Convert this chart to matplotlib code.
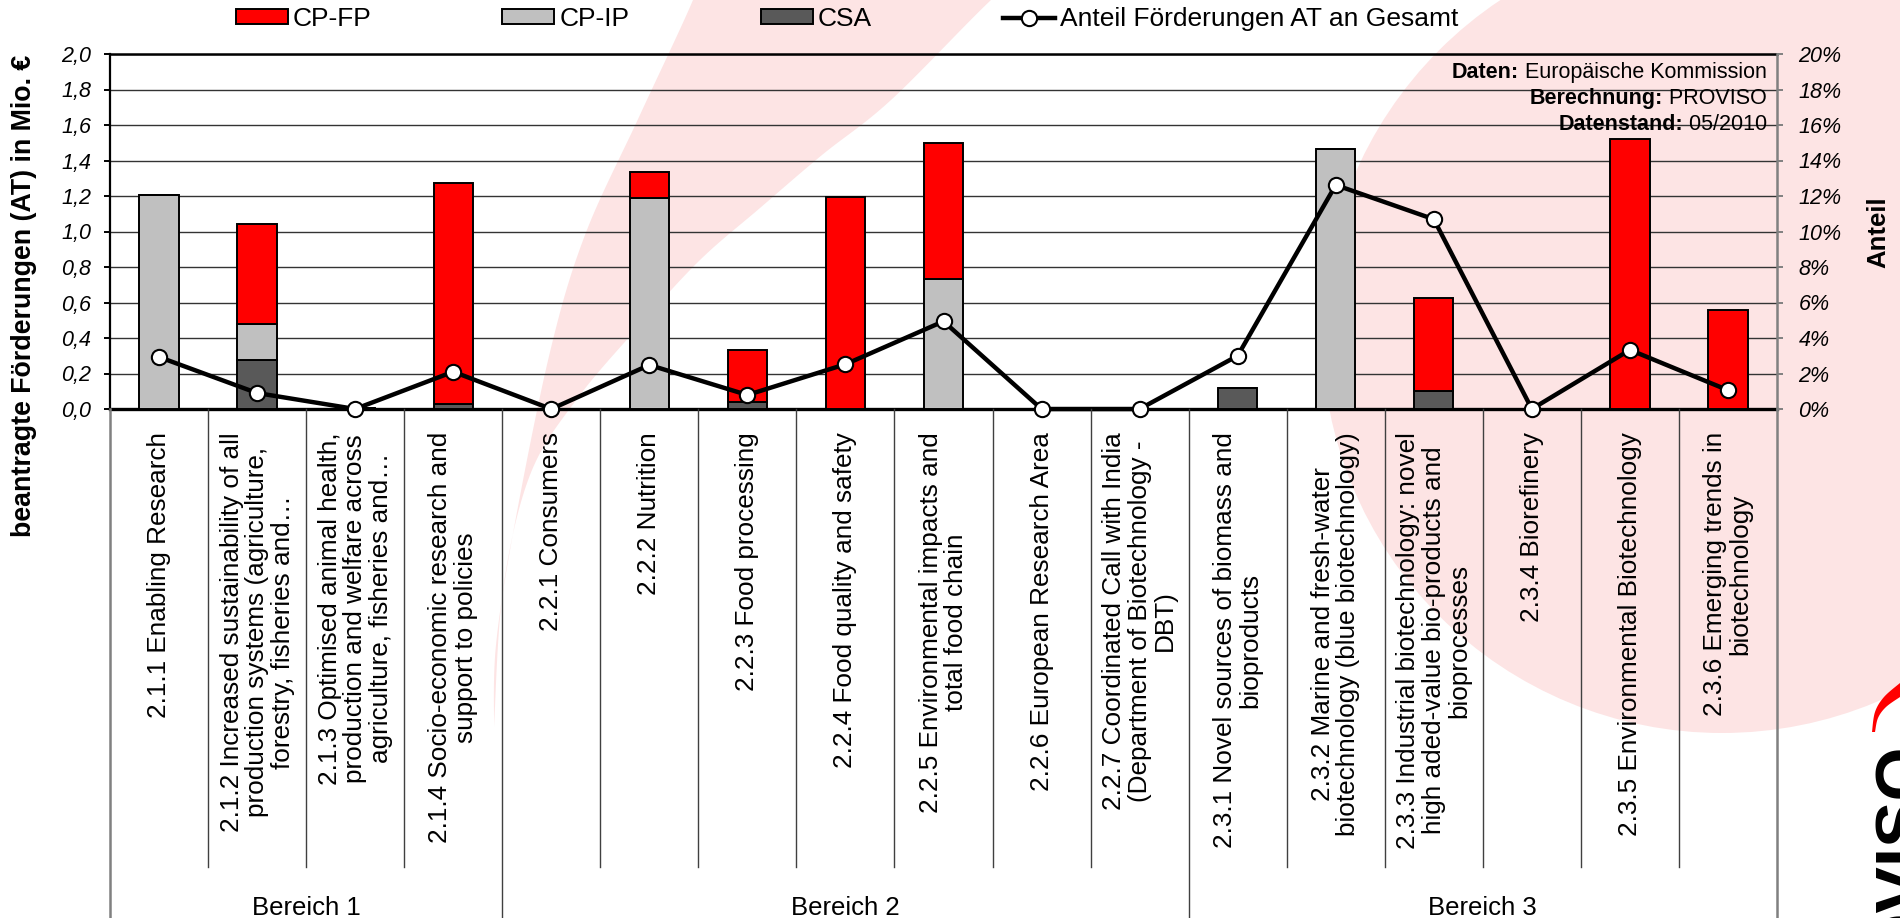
import numpy as np
import matplotlib
matplotlib.use('Agg')
import matplotlib.pyplot as plt
import matplotlib.transforms as mtransforms
from matplotlib.patches import Ellipse, Polygon, Rectangle
from matplotlib.lines import Line2D

plt.rcParams['font.family'] = ['Liberation Sans', 'DejaVu Sans']

# ---------------- data ----------------
categories = [
    "2.1.1 Enabling Research",
    "2.1.2 Increased sustainability of all\nproduction systems (agriculture,\nforestry, fisheries and…",
    "2.1.3 Optimised animal health,\nproduction and welfare across\nagriculture, fisheries and…",
    "2.1.4 Socio-economic research and\nsupport to policies",
    "2.2.1 Consumers",
    "2.2.2 Nutrition",
    "2.2.3 Food processing",
    "2.2.4 Food quality and safety",
    "2.2.5 Environmental impacts and\ntotal food chain",
    "2.2.6 European Research Area",
    "2.2.7 Coordinated Call with India\n(Department of Biotechnology -\nDBT)",
    "2.3.1 Novel sources of biomass and\nbioproducts",
    "2.3.2 Marine and fresh-water\nbiotechnology (blue biotechnology)",
    "2.3.3 Industrial biotechnology: novel\nhigh aded-value bio-products and\nbioprocesses",
    "2.3.4 Biorefinery",
    "2.3.5 Environmental Biotechnology",
    "2.3.6 Emerging trends in\nbiotechnology",
]
groups = ["Bereich 1", "Bereich 2", "Bereich 3"]
group_sizes = [4, 7, 6]

csa   = [0.0, 0.278, 0.006, 0.028, 0.0, 0.0, 0.038, 0.0, 0.0, 0.0, 0.0, 0.120, 0.0, 0.101, 0.0, 0.0, 0.0]
cp_ip = [1.205, 0.203, 0.0, 0.0, 0.0, 1.190, 0.0, 0.0, 0.732, 0.0, 0.0, 0.0, 1.463, 0.0, 0.0, 0.0, 0.0]
cp_fp = [0.0, 0.564, 0.0, 1.247, 0.0, 0.147, 0.296, 1.192, 0.768, 0.0, 0.0, 0.0, 0.0, 0.526, 0.0, 1.521, 0.555]
anteil = [2.93, 0.90, 0.0, 2.10, 0.0, 2.48, 0.79, 2.52, 4.94, 0.0, 0.0, 3.00, 12.62, 10.69, 0.0, 3.33, 1.06]

left_ticks = [0.0, 0.2, 0.4, 0.6, 0.8, 1.0, 1.2, 1.4, 1.6, 1.8, 2.0]
right_ticks = [0, 2, 4, 6, 8, 10, 12, 14, 16, 18, 20]

legend_labels = ["CP-FP", "CP-IP", "CSA", "Anteil Förderungen AT an Gesamt"]
source_rows = [("Daten:", " Europäische Kommission"),
               ("Berechnung:", " PROVISO"),
               ("Datenstand:", " 05/2010")]

# ---------------- figure ----------------
W, H = 1900, 918
fig = plt.figure(figsize=(W / 100, H / 100), dpi=100)
fig.patch.set_facecolor('white')


def fx(px):
    return px / W


def fy(py):
    return 1 - py / H


def catmull(points, n=24):
    pts = np.array(points, float)
    P = np.vstack([pts[0], pts, pts[-1]])
    out = []
    for i in range(1, len(P) - 2):
        p0, p1, p2, p3 = P[i - 1], P[i], P[i + 1], P[i + 2]
        for t in np.linspace(0, 1, n, endpoint=False):
            t2, t3 = t * t, t * t * t
            out.append(0.5 * ((2 * p1) + (-p0 + p2) * t +
                              (2 * p0 - 5 * p1 + 4 * p2 - p3) * t2 +
                              (-p0 + 3 * p1 - 3 * p2 + p3) * t3))
    out.append(P[-2])
    return np.array(out)


# ---- watermark (background decoration) ----
pink = '#fde4e4'
disc = Ellipse((fx(1722), fy(333)), 2 * 400 / W, 2 * 400 / H,
               transform=fig.transFigure, facecolor=pink, edgecolor='none', zorder=-10)
fig.add_artist(disc)

left_b = [(705, -40), (693, 0), (639, 117), (585, 235), (550, 352), (514, 528), (496, 645), (494, 727)]
right_b = [(494, 727), (503, 590), (530, 475), (577, 399), (640, 325), (700, 260),
           (760, 208), (822, 155), (891, 100), (991, 0), (1050, -50)]
lb = catmull(left_b)
rb = catmull(right_b)
stripe_px = np.vstack([lb, rb])
stripe = np.column_stack([stripe_px[:, 0] / W, 1 - stripe_px[:, 1] / H])
fig.add_artist(Polygon(stripe, closed=True, transform=fig.transFigure,
                       facecolor=pink, edgecolor='none', zorder=-10))

# ---- logo ----
sw_outer = catmull([(1872, 732), (1875, 712), (1884, 697), (1900, 683)], 12)
sw_inner = catmull([(1900, 697), (1886, 707), (1878, 718), (1875, 732)], 12)
sw = np.vstack([sw_outer, sw_inner])
fig.add_artist(Polygon(np.column_stack([sw[:, 0] / W, 1 - sw[:, 1] / H]), closed=True,
                       transform=fig.transFigure, facecolor='#ff0000', edgecolor='none', zorder=2))
fig.text(fx(1870), fy(742), "PROVISO", rotation=90, rotation_mode='anchor',
         ha='right', va='top', fontsize=50, fontweight='bold', color='black')

# ---- axes ----
x0, x1, ytop, yzero = 110, 1777, 54, 409
ax = fig.add_axes([fx(x0), fy(yzero), fx(x1) - fx(x0), fy(ytop) - fy(yzero)])
ax.set_facecolor('none')

n = len(categories)
x = np.arange(n)
csa_a = np.array(csa)
ip_a = np.array(cp_ip)
fp_a = np.array(cp_fp)
bw = 0.4
ax.bar(x, csa_a, bw, color='#595959', edgecolor='black', linewidth=1.4, zorder=3)
ax.bar(x, ip_a, bw, bottom=csa_a, color='#c0c0c0', edgecolor='black', linewidth=1.4, zorder=3)
ax.bar(x, fp_a, bw, bottom=csa_a + ip_a, color='#ff0000', edgecolor='black', linewidth=1.4, zorder=3)

ax.set_xlim(-0.5, n - 0.5)
ax.set_ylim(0, 2.0)
ax.set_xticks([])
ax.set_yticks(left_ticks)
ax.set_yticklabels([f"{v:.1f}".replace('.', ',') for v in left_ticks],
                   fontstyle='italic', fontsize=15.5)
ax.tick_params(axis='y', direction='out', length=4.5, width=1.4, color='black', pad=9)
ax.set_axisbelow(True)
ax.grid(axis='y', color='#333333', linewidth=1.0)
ax.spines['left'].set_linewidth(1.6)
ax.spines['top'].set_linewidth(1.8)
ax.spines['bottom'].set_linewidth(2.4)
ax.spines['right'].set_visible(False)
for s in ['left', 'top', 'bottom']:
    ax.spines[s].set_color('black')

ax2 = ax.twinx()
ax2.set_ylim(0, 20)
ax2.set_yticks(right_ticks)
ax2.set_yticklabels([f"{v}%" for v in right_ticks], fontstyle='italic', fontsize=15.5)
ax2.tick_params(axis='y', direction='out', length=4.5, width=1.4, color='#808080',
                labelcolor='black', pad=11)
for s in ['left', 'top', 'bottom']:
    ax2.spines[s].set_visible(False)
ax2.spines['right'].set_color('#808080')
ax2.spines['right'].set_linewidth(1.8)
ax2.plot(x, anteil, color='black', linewidth=3.2, marker='o', markersize=11,
         markerfacecolor='white', markeredgecolor='black', markeredgewidth=1.5,
         clip_on=False, zorder=5)

# ---- category axis (labels, separators, groups) ----
trans = mtransforms.blended_transform_factory(ax.transData, fig.transFigure)
for i, lab in enumerate(categories):
    ax.text(i, fy(432), lab, transform=trans, rotation=90, ha='center', va='top',
            multialignment='center', fontsize=18.8, linespacing=1.08, clip_on=False)

bounds = np.cumsum([0] + group_sizes)
for b in range(n + 1):
    xb = b - 0.5
    if b in (0, n):
        fig.add_artist(Line2D([xb, xb], [fy(yzero), 0], transform=trans,
                              color='#808080', linewidth=1.8))
    elif b in bounds:
        fig.add_artist(Line2D([xb, xb], [fy(yzero), 0], transform=trans,
                              color='#404040', linewidth=1.0))
    else:
        fig.add_artist(Line2D([xb, xb], [fy(yzero), fy(867)], transform=trans,
                              color='#404040', linewidth=1.0))

for g, name in enumerate(groups):
    c = (bounds[g] + bounds[g + 1] - 1) / 2
    ax.text(c, fy(896), name, transform=trans, ha='center', va='top',
            fontsize=18.5, clip_on=False)

# ---- axis titles ----
fig.text(fx(24), fy(296), "beantragte Förderungen (AT) in Mio. €", rotation=90,
         ha='center', va='center', fontsize=19.3, fontweight='bold')
fig.text(fx(1878), fy(232), "Anteil", rotation=90, ha='center', va='center',
         fontsize=18.5, fontweight='bold')

# ---- legend ----
handles = [Rectangle((0, 0), 1, 1, facecolor='#ff0000', edgecolor='black', linewidth=1.4),
           Rectangle((0, 0), 1, 1, facecolor='#c0c0c0', edgecolor='black', linewidth=1.4),
           Rectangle((0, 0), 1, 1, facecolor='#595959', edgecolor='black', linewidth=1.4),
           Line2D([], [], color='black', linewidth=3.2, marker='o', markersize=11,
                  markerfacecolor='white', markeredgecolor='black', markeredgewidth=1.5)]
fig.legend(handles, legend_labels, loc='center', bbox_to_anchor=(fx(847), fy(19)),
           ncol=4, frameon=False, fontsize=19, handlelength=1.97, handleheight=0.5,
           handletextpad=0.2, columnspacing=4.96, borderpad=0, borderaxespad=0)

# ---- source note ----
renderer = fig.canvas.get_renderer()
for k, (bold, normal) in enumerate(source_rows):
    yb = fy(78 + 26 * k)
    t = fig.text(fx(1767), yb, normal, ha='right', va='baseline', fontsize=15.5)
    bb = t.get_window_extent(renderer=renderer)
    fig.text(bb.x0 / fig.bbox.width, yb, bold, ha='right', va='baseline',
             fontsize=15.5, fontweight='bold')

fig.savefig('out.png', dpi=100)
